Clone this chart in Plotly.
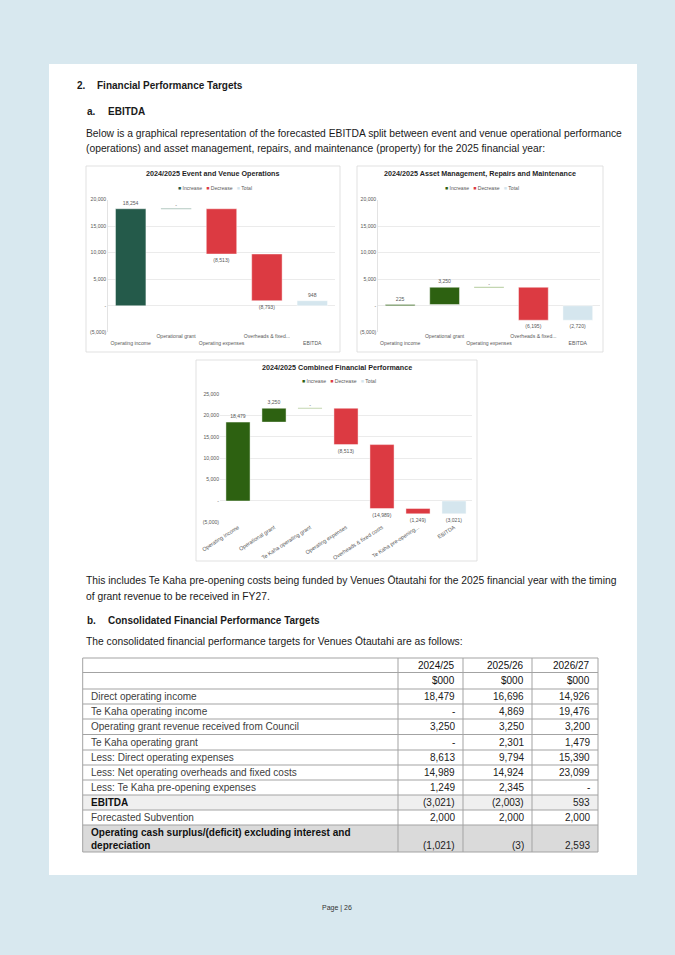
import plotly.graph_objects as go

W, H = 675, 955
FONT = "Liberation Sans, Arial, sans-serif"


def fx(px):
    return px / W


def fy(py):
    return 1 - py / H


# ---------------- data ----------------
chart_titles = [
    "2024/2025 Event and Venue Operations",
    "2024/2025 Asset Management, Repairs and Maintenance",
    "2024/2025 Combined Financial Performance",
]
split_categories = ["Operating income", "Operational grant", "Operating expenses",
                    "Overheads & fixed...", "EBITDA"]
ops_changes = [18254, 0, -8513, -8793]
ops_ebitda = 948
prop_changes = [225, 3250, 0, -6195]
prop_ebitda = -2720

combined_categories = ["Operating income", "Operational grant", "Te Kaha operating grant",
                       "Operating expenses", "Overheads & fixed costs",
                       "Te Kaha pre-opening...", "EBITDA"]
combined_changes = [18479, 3250, 0, -8513, -14989, -1249]
combined_ebitda = -3021

legend_labels = ["Increase", "Decrease", "Total"]

table_years = ["2024/25", "2025/26", "2026/27"]
table_unit = "$000"
table_labels = [
    "Direct operating income",
    "Te Kaha operating income",
    "Operating grant revenue received from Council",
    "Te Kaha operating grant",
    "Less: Direct operating expenses",
    "Less: Net operating overheads and fixed costs",
    "Less: Te Kaha pre-opening expenses",
    "EBITDA",
    "Forecasted Subvention",
    "Operating cash surplus/(deficit) excluding interest and<br>depreciation",
]
fy2025 = [18479, None, 3250, None, 8613, 14989, 1249, -3021, 2000, -1021]
fy2026 = [16696, 4869, 3250, 2301, 9794, 14924, 2345, -2003, 2000, -3]
fy2027 = [14926, 19476, 3200, 1479, 15390, 23099, None, 593, 2000, 2593]

# ---------------- styles ----------------
INC_OPS = "#245a4a"
INC_GREEN = "#2d6111"
DEC = "#dc3a42"
TOT = "#d5e6ee"
FLAT_OPS = "#b3c9c1"
FLAT_GREEN = "#c3d6b1"
LABEL = "#595959"
GRID = "#e6e6e6"
BAR_W = 0.67
SMALL = 5.1
BODY = 10.3


def fmt(v):
    if v is None:
        return "-"
    if v < 0:
        return "({:,})".format(-v)
    if v == 0:
        return "-"
    return "{:,}".format(v)


fig = go.Figure()


def add_waterfall(changes, total, inc_color, flat_color, xa, ya):
    groups = {"inc": dict(x=[], y=[], base=[], text=[]),
              "dec": dict(x=[], y=[], base=[], text=[])}
    flats = []
    level = 0
    for i, v in enumerate(changes):
        if v == 0:
            flats.append((i, level))
            continue
        g = groups["inc"] if v > 0 else groups["dec"]
        g["x"].append(i)
        g["y"].append(v)
        g["base"].append(level)
        g["text"].append(fmt(v))
        level += v
    tot = dict(x=[len(changes)], y=[total], base=[0], text=[fmt(total)])
    for g, col in ((groups["inc"], inc_color), (groups["dec"], DEC), (tot, TOT)):
        fig.add_trace(go.Bar(
            x=g["x"], y=g["y"], base=g["base"], text=g["text"], width=BAR_W,
            marker=dict(color=col, line=dict(color="rgba(255,255,255,0.55)", width=0.8)),
            textposition="outside", textangle=0, constraintext="none", cliponaxis=False,
            textfont=dict(size=SMALL, color=LABEL, family=FONT),
            xaxis=xa, yaxis=ya, showlegend=False, hoverinfo="skip"))
    for i, lvl in flats:
        fig.add_trace(go.Scatter(
            x=[i - BAR_W / 2, i + BAR_W / 2], y=[lvl, lvl], mode="lines",
            line=dict(color=flat_color, width=1.2), xaxis=xa, yaxis=ya,
            showlegend=False, hoverinfo="skip", cliponaxis=False))
        fig.add_trace(go.Scatter(
            x=[i], y=[lvl], mode="text", text=["-"], textposition="top center",
            textfont=dict(size=SMALL, color=LABEL, family=FONT), xaxis=xa, yaxis=ya,
            showlegend=False, hoverinfo="skip", cliponaxis=False))


add_waterfall(ops_changes, ops_ebitda, INC_OPS, FLAT_OPS, "x", "y")
add_waterfall(prop_changes, prop_ebitda, INC_GREEN, FLAT_GREEN, "x2", "y2")
add_waterfall(combined_changes, combined_ebitda, INC_GREEN, FLAT_GREEN, "x3", "y3")


def yticks(lo, hi):
    vals = list(range(lo, hi + 1, 5000))
    return vals, [fmt(v) for v in vals]


def stagger(cats):
    return [("<br>" if i % 2 == 0 else "") + c for i, c in enumerate(cats)]


tick_font = dict(size=SMALL, color=LABEL, family=FONT)

v12, t12 = yticks(-5000, 20000)
v3, t3 = yticks(-5000, 25000)


def xaxis(dom, cats, anchor, ticktext, angle=0, size=SMALL):
    return dict(domain=[fx(dom[0]), fx(dom[1])], range=[-0.5, len(cats) - 0.5],
                tickvals=list(range(len(cats))), ticktext=ticktext, tickangle=angle,
                anchor=anchor, showgrid=False, zeroline=False, showline=False,
                ticks="", tickfont=dict(size=size, color=LABEL, family=FONT),
                fixedrange=True, automargin=False)


def yaxis(dom, rng, vals, texts, anchor, line):
    return dict(domain=[fy(dom[1]), fy(dom[0])], range=rng, tickvals=vals, ticktext=texts,
                anchor=anchor, showgrid=True, gridcolor=GRID, gridwidth=0.8,
                zeroline=False, showline=line, linecolor="#dcdcdc", linewidth=0.8,
                ticks="", tickfont=tick_font, fixedrange=True, automargin=False)


shapes = []
annotations = []

# page
shapes.append(dict(type="rect", xref="paper", yref="paper", x0=fx(49), x1=fx(637),
                   y0=fy(875), y1=fy(64), fillcolor="white", line=dict(width=0), layer="below"))
# chart boxes
for (x0, y0, x1, y1) in [(86, 166, 340, 352), (357, 166, 603, 352), (196, 360, 477, 561)]:
    shapes.append(dict(type="rect", xref="paper", yref="paper", x0=fx(x0), x1=fx(x1),
                       y0=fy(y1), y1=fy(y0), fillcolor="white",
                       line=dict(color="#d9d9d9", width=0.8), layer="below"))


def text(t, x, y, size=BODY, bold=False, color="#1a1a1a", anchor="left"):
    annotations.append(dict(text=("<b>%s</b>" % t) if bold else t, x=fx(x), y=fy(y),
                            xref="paper", yref="paper", xanchor=anchor, yanchor="middle",
                            showarrow=False, font=dict(size=size, color=color, family=FONT)))


# chart titles & legends
for title, cx, ty, inc in [(chart_titles[0], 213, 174, INC_OPS), (chart_titles[1], 480, 174, INC_GREEN),
                           (chart_titles[2], 337, 367, INC_GREEN)]:
    text(title, cx, ty, size=7.2, bold=True, color="#1f1f1f", anchor="center")
    cols = [inc, DEC, TOT]
    leg = "\u00a0\u00a0\u00a0".join(
        "<span style='color:%s'>\u25a0</span>\u00a0%s" % (c, l) for c, l in zip(cols, legend_labels))
    text(leg, cx + 2, ty + 13.5, size=SMALL, color=LABEL, anchor="center")

# document text
text("2.", 75, 85, size=10, bold=True)
text("Financial Performance Targets", 95, 85, size=10, bold=True)
text("a.", 85, 112, size=10, bold=True)
text("EBITDA", 106, 112, size=10, bold=True)
text("Below is a graphical representation of the forecasted EBITDA split between event and venue operational performance", 84, 133)
text("(operations) and asset management, repairs, and maintenance (property) for the 2025 financial year:", 84, 149)
text("This includes Te Kaha pre-opening costs being funded by Venues \u014ctautahi for the 2025 financial year with the timing", 84, 580)
text("of grant revenue to be received in FY27.", 84, 596)
text("b.", 85, 620, size=10, bold=True)
text("Consolidated Financial Performance Targets", 106, 620, size=10, bold=True)
text("The consolidated financial performance targets for Venues \u014ctautahi are as follows:", 84, 641)
text("Page | 26", 337, 908, size=7, color="#333333", anchor="center")

# ---------------- table ----------------
col_edges = [82.7, 398, 463, 532, 598]
row_edges = [658, 672.5, 689, 704, 719, 734.5, 750, 765, 780, 795, 810, 825, 852]
for r in range(len(row_edges) - 1):
    top, bot = row_edges[r], row_edges[r + 1]
    fill = {9: "#efefef", 11: "#dadada"}.get(r)
    if fill:
        shapes.append(dict(type="rect", xref="paper", yref="paper", x0=fx(col_edges[0]),
                           x1=fx(col_edges[-1]), y0=fy(bot), y1=fy(top), fillcolor=fill,
                           line=dict(width=0), layer="below"))
LINE = "#a3a3a3"
for yy in row_edges:
    shapes.append(dict(type="line", xref="paper", yref="paper", x0=fx(col_edges[0]),
                       x1=fx(col_edges[-1]), y0=fy(yy), y1=fy(yy), line=dict(color=LINE, width=1)))
for xx in col_edges:
    shapes.append(dict(type="line", xref="paper", yref="paper", x0=fx(xx), x1=fx(xx),
                       y0=fy(row_edges[-1]), y1=fy(row_edges[0]), line=dict(color=LINE, width=1)))


def mid(r):
    return (row_edges[r] + row_edges[r + 1]) / 2


for c, yr in enumerate(table_years):
    text(yr, col_edges[c + 2] - 6.5, mid(0), size=10, color="#111111", anchor="right")
    text(table_unit, col_edges[c + 2] - 6.5, mid(1), size=10, color="#111111", anchor="right")

last = len(table_labels) - 1
for i, lab in enumerate(table_labels):
    r = i + 2
    bold = lab == "EBITDA" or i == last
    col = "#111111" if bold else "#404040"
    annotations.append(dict(text=("<b>%s</b>" % lab) if bold else lab, x=fx(89), y=fy(mid(r)),
                            xref="paper", yref="paper", xanchor="left", yanchor="middle",
                            showarrow=False, align="left",
                            font=dict(size=10, color=col, family=FONT)))
    for c, series in enumerate([fy2025, fy2026, fy2027]):
        yv = mid(r) + (6.8 if i == last else 0)
        text(fmt(series[i]), col_edges[c + 2] - 6.5, yv, size=10, color="#222222", anchor="right")

fig.update_layout(
    width=W, height=H, autosize=False,
    margin=dict(l=0, r=0, t=0, b=0, pad=0),
    paper_bgcolor="#d8e8ef", plot_bgcolor="white",
    barmode="overlay", hovermode=False,
    font=dict(family=FONT),
    xaxis=xaxis((108, 335), split_categories, "y", stagger(split_categories)),
    yaxis=yaxis((199.5, 332.3), [-5000, 20000], v12, t12, "x", True),
    xaxis2=xaxis((378, 600), split_categories, "y2", stagger(split_categories)),
    yaxis2=yaxis((199.5, 332.3), [-5000, 20000], v12, t12, "x2", True),
    xaxis3=xaxis((220, 472), combined_categories, "y3", combined_categories, angle=-33, size=5.4),
    yaxis3=yaxis((394.3, 522.3), [-5000, 25000], v3, t3, "x3", False),
    shapes=shapes, annotations=annotations,
)

fig.write_html("out.html", config={"displayModeBar": False, "staticPlot": True},
               post_script="document.body.style.margin='0';document.body.style.overflow='hidden';")
